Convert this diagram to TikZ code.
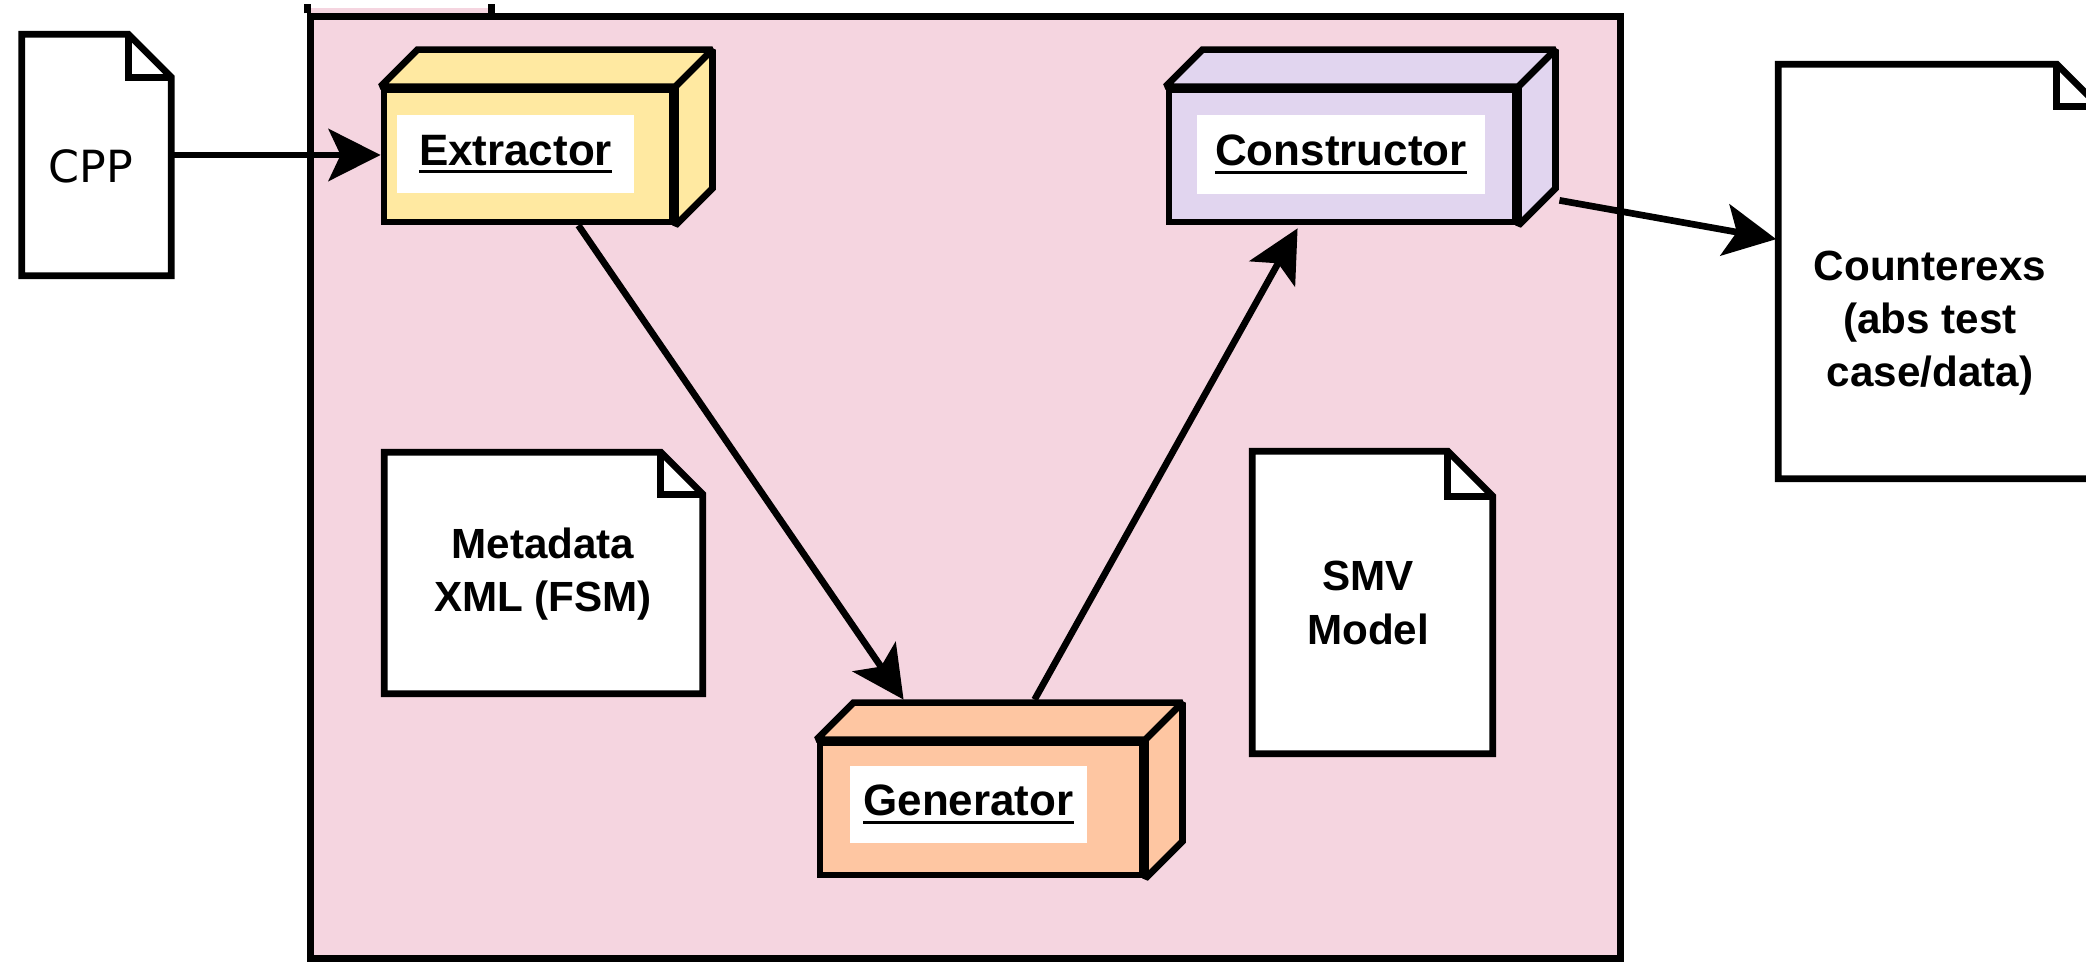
\documentclass[tikz,border=0pt]{standalone}
\usepackage{fontspec}
\setmainfont{Liberation Sans}
\newfontfamily\cppfont{DejaVu Sans}
\usetikzlibrary{arrows.meta,calc}

\definecolor{pkgpink}{HTML}{F5D5E0}
\definecolor{extyellow}{HTML}{FFE9A1}
\definecolor{conlilac}{HTML}{E1D5EF}
\definecolor{genpeach}{HTML}{FEC6A2}

% underlined label text
\newcommand\ulabel[1]{\setbox0\hbox{#1}\leavevmode\rlap{\copy0}\rule[-2.2pt]{\wd0}{0.9pt}}

% 3-D node: top and right faces attached to the front face node #1
\newcommand\solidfaces[2]{%
  \filldraw[fill=#2, boxline, miter limit=2] (#1.north west) -- ++(37,-37)
    -- ($(#1.north east)+(37,-37)$) -- (#1.north east) -- cycle;
  \filldraw[fill=#2, boxline, miter limit=2] (#1.north east) -- ++(37,-37)
    -- ($(#1.south east)+(37,-37)$) -- (#1.south east) -- cycle;
}

% document shape with a folded corner of size #2 around node #1
\newcommand\docshape[2]{%
  \filldraw[fill=white, boxline] (#1.north west) -- ($(#1.north east)+(-#2,0)$)
    -- ($(#1.north east)+(0,#2)$) -- (#1.south east) -- (#1.south west) -- cycle;
  \draw[boxline] ($(#1.north east)+(-#2,0)$) -- ($(#1.north east)+(-#2,#2)$)
    -- ($(#1.north east)+(0,#2)$);
}

\begin{document}
\begin{tikzpicture}[x=0.01cm, y=-0.01cm,
  boxline/.style={line width=1.9pt, draw=black},
  front/.style={boxline, inner sep=0, minimum height=1.32cm},
  docbox/.style={inner sep=0},
  tag/.style={fill=white, inner sep=0, font=\fontsize{12.5}{15}\selectfont\bfseries},
  lbl/.style={align=center, inner sep=0, font=\fontsize{12}{15.1}\selectfont\bfseries},
  arr/.style={line width=1.9pt, -{Stealth[length=0.52cm, width=0.52cm, inset=0.12cm]}}]

\useasboundingbox (0,0) rectangle (2086,962);

% package frame with its tab
\fill[pkgpink] (311,8) rectangle (495,17);
\node[boxline, fill=pkgpink, inner sep=0, minimum width=13.09cm, minimum height=9.41cm]
  (pkg) at (965.5,487.5) {};
\draw[boxline] (pkg.north west) -- ++(0,-9);
\draw[boxline] ($(pkg.north west)+(184,0)$) -- ++(0,-9);

% documents
\node[docbox, minimum width=1.48cm, minimum height=2.40cm] (cpp) at (96.5,155) {};
\docshape{cpp}{43}
\node[font=\cppfont\fontsize{12.6}{14}\selectfont, inner sep=0] (cpptxt) at (91,166.5) {CPP};

\node[docbox, minimum width=3.17cm, minimum height=2.40cm] (meta) at (543.5,573) {};
\docshape{meta}{42}
\node[lbl] (metatxt) at (543,574) {Metadata\\XML (FSM)};

\node[docbox, minimum width=2.39cm, minimum height=3.01cm] (smv) at (1372.5,602.5) {};
\docshape{smv}{45}
\node[lbl] (smvtxt) at (1368,603) {SMV\\Model};

\node[docbox, minimum width=3.19cm, minimum height=4.13cm] (cex) at (1938.5,271.5) {};
\docshape{cex}{42}
\node[lbl] (cextxt) at (1930,323) {Counterexs\\(abs test\\case/data)};

% components
\node[front, fill=extyellow, minimum width=2.88cm] (ext) at (528,156) {};
\solidfaces{ext}{extyellow}
\node[tag, minimum width=2.37cm, minimum height=0.78cm] (exttag) at (515.5,154) {\ulabel{Extractor}};

\node[front, fill=conlilac, minimum width=3.46cm] (con) at (1342,156) {};
\solidfaces{con}{conlilac}
\node[tag, minimum width=2.88cm, minimum height=0.79cm] (contag) at (1341,154.5) {\ulabel{Constructor}};

\node[front, fill=genpeach, minimum width=3.22cm] (gen) at (981,809) {};
\solidfaces{gen}{genpeach}
\node[tag, minimum width=2.37cm, minimum height=0.77cm] (gentag) at (968.5,804.5) {\ulabel{Generator}};

% connector end points
\coordinate (gIn)  at ($(gen.north west)+(87,-40)$);
\coordinate (gOut) at ($(gen.north west)+(218,-40)$);
\coordinate (cIn)  at ($(con.south west)+(132,3)$);
\coordinate (cOut) at ($(con.south east)+(41,-25)$);
\coordinate (xIn)  at ($(cex.north west)+(-2,175)$);

% flows
\draw[arr] (cpp.east) -- (cpp.east -| ext.west);
\draw[arr] (ext.-54) -- (gIn);
\draw[arr] (gOut) -- (cIn);
\draw[arr] (cOut) -- (xIn);
\end{tikzpicture}
\end{document}
